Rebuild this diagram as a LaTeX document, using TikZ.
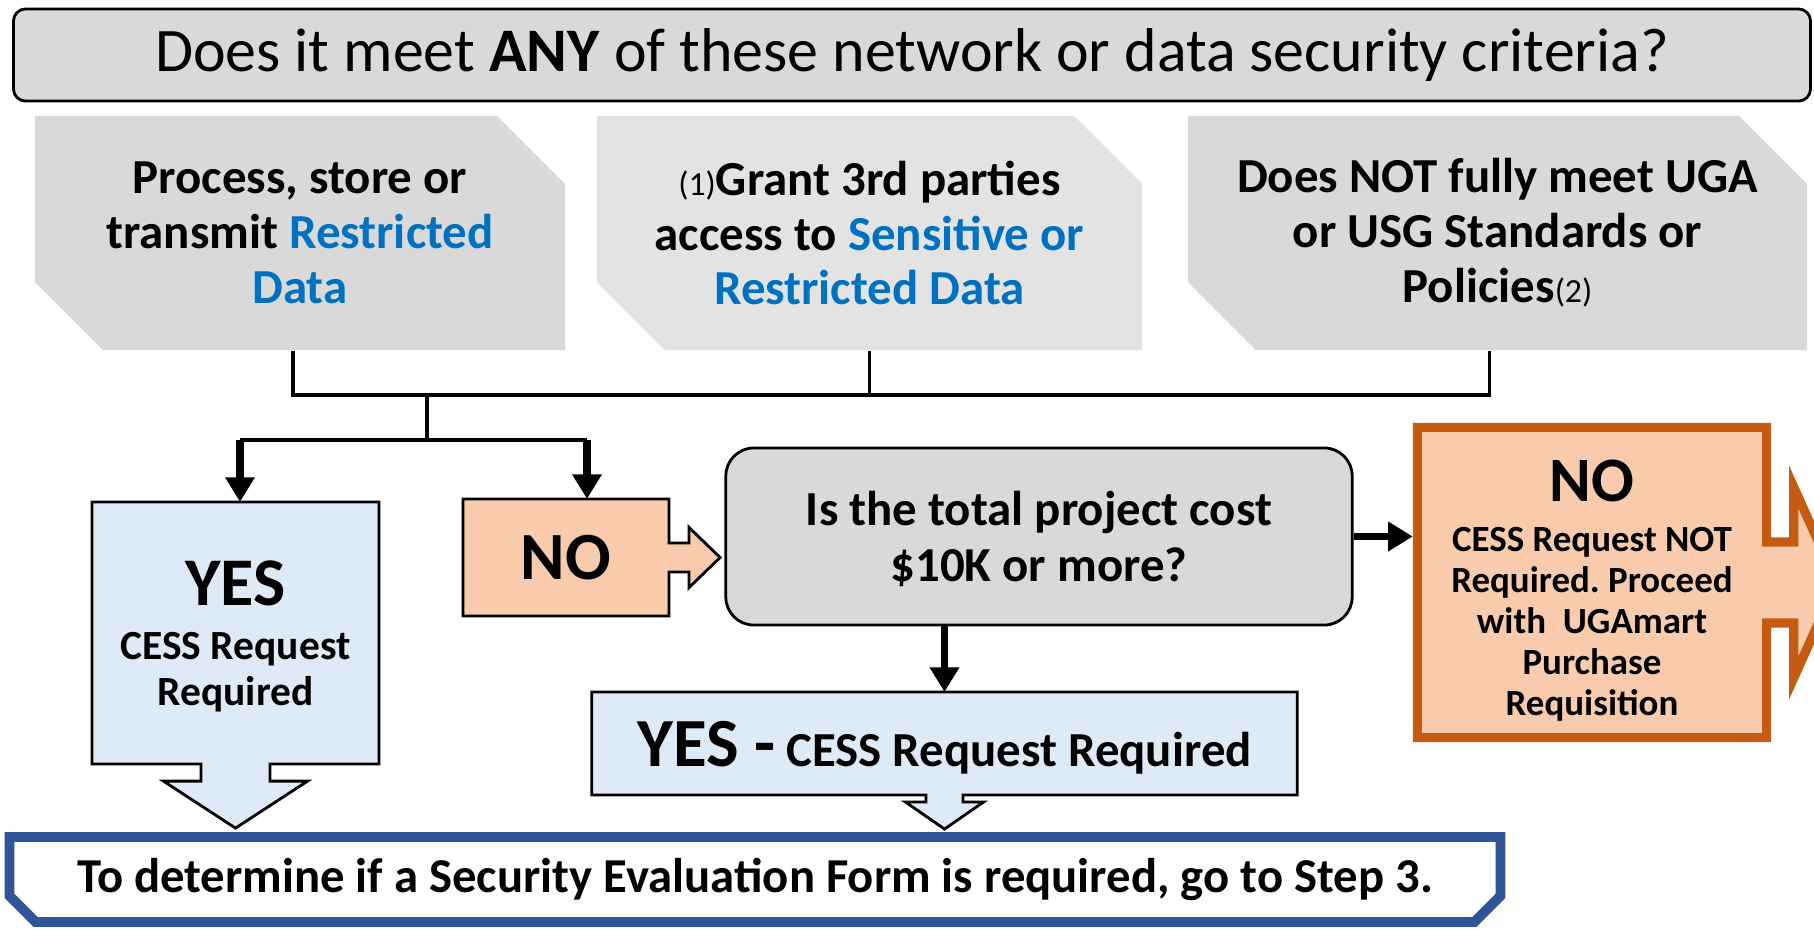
\documentclass[tikz,border=0pt]{standalone}
\usepackage{fontspec}
\setmainfont{Carlito}
\usetikzlibrary{arrows.meta,shapes.misc,backgrounds}

\definecolor{critgray}{HTML}{D9D9D9}
\definecolor{critlight}{HTML}{E3E3E3}
\definecolor{datablue}{HTML}{0070C0}
\definecolor{yesblue}{HTML}{DEEBF7}
\definecolor{nopeach}{HTML}{F8CBAD}
\definecolor{noorange}{HTML}{C55A11}
\definecolor{stepblue}{HTML}{2F5597}

\tikzset{
  critbox/.style={chamfered rectangle, chamfered rectangle corners={north east,south west},
    chamfered rectangle xsep=0.34cm, chamfered rectangle ysep=0.34cm,
    fill=critgray, minimum height=2.34cm, inner sep=0pt, align=center,
    font=\fontsize{13.9}{15.6}\selectfont\bfseries},
  textbox/.style={inner sep=0pt, outer sep=0pt, align=center},
  bus/.style={line width=1.1pt},
  flow/.style={line width=2.2pt, ->},
}

\begin{document}
\frenchspacing
\begin{tikzpicture}[x=0.01cm, y=-0.01cm, >={Triangle[length=7pt,width=8pt]}]
  \useasboundingbox (0,0) rectangle (1814,930);

  % Question
  \node[draw, fill=critgray, rounded corners=0.12cm, line width=0.8pt,
        minimum width=17.96cm, minimum height=0.92cm, inner sep=0pt,
        font=\fontsize{17.6}{20}\selectfont] (crit) at (912,55)
    {Does it meet \textbf{ANY} of these network or data security criteria?};

  % Criteria
  \node[critbox, minimum width=5.30cm] (c1) at (300,233)
    {Process, store or\\transmit \textcolor{datablue}{Restricted}\\\textcolor{datablue}{Data}};
  \node[critbox, fill=critlight, minimum width=5.45cm] (c2) at (869.5,233)
    {{\mdseries\fontsize{9.6}{15.6}\selectfont(1)}Grant 3rd parties\\access to \textcolor{datablue}{Sensitive or}\\\textcolor{datablue}{Restricted Data}};
  \node[critbox, minimum width=6.19cm] (c3) at (1497.5,233)
    {Does NOT fully meet UGA\\or USG Standards or\\Policies{\mdseries\fontsize{9.6}{15.6}\selectfont(2)}};

  % Outcomes
  \node[textbox, minimum width=2.87cm, minimum height=2.62cm, text depth=-3.2pt,
        font=\fontsize{11.8}{13}\selectfont\bfseries] (yes) at (235.5,633)
    {{\fontsize{19.4}{19.4}\selectfont YES}\\[2.4pt]CESS Request\\Required};
  \node[textbox, minimum width=2.06cm, minimum height=1.17cm,
        font=\fontsize{19.2}{19.2}\selectfont\bfseries] (nob) at (566,557.5) {NO};
  \node[draw, fill=critgray, rounded corners=0.28cm, line width=0.8pt,
        minimum width=6.26cm, minimum height=1.77cm, inner sep=0pt, align=center,
        text depth=-0.5pt, font=\fontsize{13.9}{16.1}\selectfont\bfseries] (cost) at (1039,536.5)
    {Is the total project cost\\\$10K or more?};
  \node[textbox, minimum width=3.49cm, minimum height=3.10cm, outer sep=1.3pt,
        text depth=-4.6pt, font=\fontsize{10.5}{11.7}\selectfont\bfseries] (nobig) at (1592,582.5)
    {{\fontsize{18}{18}\selectfont\rule{0pt}{15pt}NO}\\[2.4pt]CESS Request NOT\\Required. Proceed\\with~ UGAmart\\Purchase\\Requisition};
  \node[textbox, minimum width=7.05cm, minimum height=1.03cm, text depth=-0.75pt,
        font=\fontsize{13.9}{15}\selectfont\bfseries] (yesb) at (944.5,743.5)
    {{\fontsize{19.6}{19.6}\selectfont YES -} CESS Request Required};

  % Next step
  \node[chamfered rectangle, chamfered rectangle corners={south east,south west},
        chamfered rectangle xsep=0.13cm, chamfered rectangle ysep=0.13cm,
        draw=stepblue, line width=2.8pt, fill=white, inner sep=0pt,
        minimum width=14.9cm, minimum height=0.85cm,
        font=\fontsize{13.85}{15}\selectfont\bfseries] (goto) at (755,879.5)
    {To determine if a Security Evaluation Form is required, go to Step 3.\hspace{0.14cm}};

  % Box outlines with their block arrows
  \begin{scope}[on background layer]
    \draw[fill=yesblue, line width=0.8pt]
      (yes.north west) -- (yes.north east) -- (yes.south east)
      -- ([xshift=0.345cm]yes.south) -- ([xshift=0.345cm,yshift=-0.17cm]yes.south)
      -- ([xshift=0.72cm,yshift=-0.17cm]yes.south) -- ([yshift=-0.64cm]yes.south)
      -- ([xshift=-0.72cm,yshift=-0.17cm]yes.south) -- ([xshift=-0.345cm,yshift=-0.17cm]yes.south)
      -- ([xshift=-0.345cm]yes.south) -- (yes.south west) -- cycle;
    \draw[fill=nopeach, line width=0.8pt]
      (nob.north west) -- (nob.north east) -- ([yshift=0.145cm]nob.east)
      -- ([xshift=0.2cm,yshift=0.145cm]nob.east) -- ([xshift=0.2cm,yshift=0.3cm]nob.east)
      -- ([xshift=0.51cm]nob.east)
      -- ([xshift=0.2cm,yshift=-0.3cm]nob.east) -- ([xshift=0.2cm,yshift=-0.145cm]nob.east)
      -- ([yshift=-0.145cm]nob.east) -- (nob.south east) -- (nob.south west) -- cycle;
    \draw[fill=nopeach, draw=noorange, line width=2.6pt]
      ([shift={(1.3pt,-1.3pt)}]nobig.north west) -- ([shift={(-1.3pt,-1.3pt)}]nobig.north east)
      -- ([xshift=-1.3pt,yshift=0.405cm]nobig.east)
      -- ([xshift=0.225cm,yshift=0.405cm]nobig.east) -- ([xshift=0.225cm,yshift=0.955cm]nobig.east)
      -- ([xshift=0.655cm]nobig.east)
      -- ([xshift=0.225cm,yshift=-0.955cm]nobig.east) -- ([xshift=0.225cm,yshift=-0.405cm]nobig.east)
      -- ([xshift=-1.3pt,yshift=-0.405cm]nobig.east)
      -- ([shift={(-1.3pt,1.3pt)}]nobig.south east) -- ([shift={(1.3pt,1.3pt)}]nobig.south west) -- cycle;
    \draw[fill=yesblue, line width=0.8pt]
      (yesb.north west) -- (yesb.north east) -- (yesb.south east)
      -- ([xshift=0.185cm]yesb.south) -- ([xshift=0.185cm,yshift=-0.07cm]yesb.south)
      -- ([xshift=0.39cm,yshift=-0.07cm]yesb.south) -- ([yshift=-0.34cm]yesb.south)
      -- ([xshift=-0.39cm,yshift=-0.07cm]yesb.south) -- ([xshift=-0.185cm,yshift=-0.07cm]yesb.south)
      -- ([xshift=-0.185cm]yesb.south) -- (yesb.south west) -- cycle;
  \end{scope}

  % Connectors
  \coordinate (bus) at (427,395);
  \coordinate (fork) at (427,440);
  \coordinate (from1) at ([xshift=-0.07cm]c1.south);
  \coordinate (from3) at ([xshift=-0.08cm]c3.south);
  \coordinate (toyes) at ([xshift=0.045cm]yes.north);
  \coordinate (tono) at ([xshift=0.21cm]nob.north);
  \draw[bus] (from1) -- (from1 |- bus) -- (from3 |- bus) -- (from3);
  \draw[bus] (c2.south) -- (c2.south |- bus);
  \draw[bus] (bus) -- (fork);
  \draw[bus] (toyes |- fork) -- (tono |- fork);
  \draw[flow] (toyes |- fork) -- (toyes);
  \draw[flow] (tono |- fork) -- (tono);
  \draw[flow] (cost.east) -- (cost.east -| nobig.west);
  \draw[flow] (cost.south -| yesb.north) -- (yesb.north);

\end{tikzpicture}
\end{document}
